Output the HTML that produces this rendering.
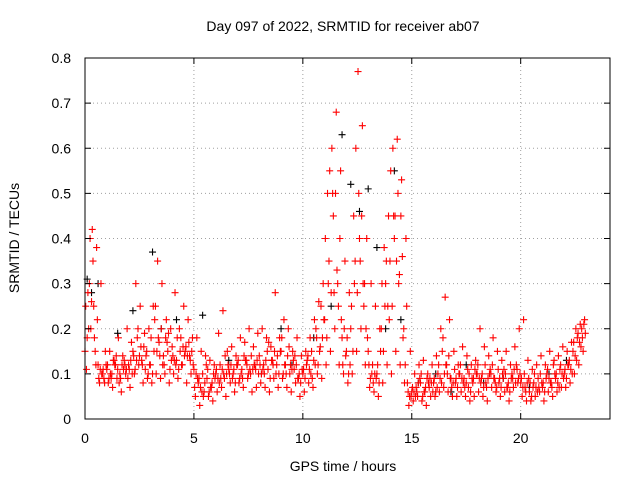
<!DOCTYPE html>
<html><head><meta charset="utf-8"><style>
body{margin:0;background:#fff;}
svg{display:block;font-family:"Liberation Sans",sans-serif;}
</style></head><body>
<svg id="chart" width="640" height="480" viewBox="0 0 640 480">
<text x="343" y="31" font-size="14" text-anchor="middle">Day 097 of 2022, SRMTID for receiver ab07</text>
<text x="343" y="471" font-size="14" text-anchor="middle">GPS time / hours</text>
<text transform="translate(19,238) rotate(-90)" font-size="14" text-anchor="middle">SRMTID / TECUs</text>
<g id="grid"></g><g id="marks"></g><g id="axes"></g>
</svg>
<script>
const xTicks=[0,5,10,15,20];
const yTicks=[0,0.1,0.2,0.3,0.4,0.5,0.6,0.7,0.8];
const yTickLabels=["0","0.1","0.2","0.3","0.4","0.5","0.6","0.7","0.8"];
const seriesA=[.15,.30,.25,.12,.10,.11,.09,.12,.10,.13,.12,.15,.18,.13,.14,.12,.22,.17,.14,.15,.16,.13,.18,.15,.14,.11,.08,.10,.09,.07,.10,.12,.09,.11,.10,.12,.11,.13,.10,.12,.14,.12,.11,.13,.12,.15,.12,.10,.11,.09,.10,.13,.15,.20,.16,.22,.35,.45,.30,.18,.15,.20,.35,.40,.25,.15,.12,.10,.20,.30,.35,.40,.30,.18,.08,.06,.07,.08,.06,.07,.08,.10,.15,.12,.09,.08,.10,.09,.07,.08,.10,.09,.08,.11,.09,.08,.09,.07,.10,.12,.08,.07,.06,.08,.09,.07,.10,.08,.09,.11,.10,.12,.15,.18,.20];
const seriesB=[.11,.20,.15,.08,.09,.08,.07,.09,.06,.10,.07,.10,.12,.08,.09,.08,.10,.09,.10,.08,.10,.09,.12,.08,.10,.05,.03,.06,.05,.04,.06,.07,.05,.08,.06,.08,.07,.09,.06,.07,.08,.07,.06,.09,.07,.09,.07,.06,.08,.05,.06,.08,.07,.10,.09,.12,.15,.20,.12,.10,.08,.10,.15,.20,.12,.07,.06,.05,.08,.12,.10,.15,.12,.08,.03,.04,.05,.04,.03,.05,.05,.06,.07,.06,.05,.05,.06,.05,.04,.05,.06,.05,.04,.07,.06,.05,.06,.04,.07,.08,.05,.04,.04,.05,.06,.04,.06,.05,.06,.07,.07,.08,.10,.12,.15];
const seriesC=[.28,.42,.38,.30,.15,.15,.13,.18,.14,.20,.17,.30,.25,.19,.20,.25,.35,.30,.22,.20,.28,.20,.25,.22,.18,.18,.15,.14,.13,.12,.19,.24,.15,.16,.14,.18,.17,.20,.16,.19,.20,.18,.16,.28,.18,.22,.20,.15,.18,.14,.15,.18,.22,.26,.30,.50,.60,.68,.55,.35,.28,.45,.77,.65,.40,.30,.25,.20,.38,.45,.60,.62,.53,.40,.15,.10,.12,.13,.10,.12,.14,.20,.27,.22,.15,.12,.16,.14,.12,.13,.20,.16,.14,.18,.15,.13,.15,.12,.16,.20,.22,.13,.11,.12,.14,.12,.15,.13,.14,.16,.15,.17,.20,.21,.22];
const seriesD=[.20,.35,.22,.10,.12,.10,.12,.08,.11,.09,.10,.13,.16,.11,.12,.15,.18,.12,.17,.13,.12,.15,.14,.17,.12,.09,.06,.12,.07,.09,.08,.10,.12,.09,.12,.10,.13,.11,.12,.10,.11,.15,.13,.10,.15,.12,.16,.13,.09,.11,.12,.10,.12,.15,.22,.30,.50,.33,.22,.14,.12,.30,.50,.30,.18,.10,.09,.15,.25,.22,.45,.50,.36,.25,.05,.05,.09,.06,.08,.06,.07,.08,.12,.09,.11,.10,.08,.11,.09,.10,.08,.12,.10,.09,.11,.10,.07,.09,.08,.10,.10,.09,.07,.06,.08,.09,.08,.10,.07,.09,.12,.10,.13,.16,.19];
const seriesE=[.25,.40,.18,.09,.11,.12,.10,.14,.09,.12,.11,.14,.20,.12,.15,.18,.25,.14,.12,.19,.14,.18,.12,.16,.13,.07,.09,.05,.11,.08,.11,.09,.14,.10,.11,.13,.09,.12,.14,.11,.12,.10,.17,.12,.14,.18,.10,.12,.14,.10,.11,.14,.09,.18,.25,.40,.55,.28,.25,.12,.18,.25,.60,.35,.30,.12,.08,.12,.30,.35,.55,.45,.32,.20,.06,.07,.06,.10,.07,.09,.09,.12,.18,.10,.07,.09,.12,.07,.10,.09,.12,.10,.07,.10,.08,.09,.11,.08,.09,.11,.09,.06,.08,.10,.07,.08,.11,.07,.10,.12,.11,.13,.17,.19,.18];
const seriesF=[.18,.26,.12,.11,.08,.09,.13,.11,.12,.11,.13,.11,.14,.16,.10,.10,.15,.20,.18,.11,.13,.11,.16,.14,.15,.10,.07,.08,.06,.10,.09,.11,.10,.12,.08,.09,.14,.10,.11,.13,.10,.13,.09,.15,.10,.10,.14,.11,.12,.08,.09,.11,.13,.12,.18,.18,.28,.50,.40,.20,.10,.15,.28,.45,.20,.09,.10,.08,.15,.25,.25,.35,.45,.12,.05,.06,.08,.05,.09,.08,.06,.09,.10,.14,.08,.07,.09,.08,.06,.11,.09,.07,.09,.12,.07,.07,.10,.06,.11,.09,.07,.08,.05,.07,.10,.06,.09,.12,.08,.10,.09,.11,.14,.17,.21];
const blackT=[0.1,0.3,0.6,1.5,2.2,3.1,3.5,4.2,5.4,6.6,8.1,9.0,9.5,10.5,11.3,11.8,12.2,12.6,13.0,13.4,13.8,14.2,14.5,15.3,16.1,16.8,17.5,18.3,19.2,20.4,21.3,22.1];
const blackV=[0.31,0.28,0.30,0.19,0.24,0.37,0.20,0.22,0.23,0.13,0.10,0.20,0.12,0.18,0.25,0.63,0.52,0.46,0.51,0.38,0.20,0.55,0.22,0.08,0.10,0.06,0.12,0.08,0.09,0.07,0.10,0.13];
const X0=85,X1=610,Y0=419,Y1=58,XMAX=24.1,YMAX=0.8;
const xs=v=>X0+(X1-X0)*v/XMAX, ys=v=>Y0-(Y0-Y1)*v/YMAX;
const NS="http://www.w3.org/2000/svg";
function mk(tag,attrs,parent){const e=document.createElementNS(NS,tag);for(const k in attrs)e.setAttribute(k,attrs[k]);parent.appendChild(e);return e;}
const grid=document.getElementById('grid'),marks=document.getElementById('marks'),axes=document.getElementById('axes');
xTicks.forEach(t=>{const x=xs(t);
 if(t>0){const g=mk('line',{x1:x,x2:x,y1:Y1,y2:Y0,stroke:'#a0a0a0','stroke-dasharray':'1,3'},grid);
 
 }
 mk('line',{x1:x,x2:x,y1:Y0,y2:Y0-6,stroke:'#000'},axes);mk('line',{x1:x,x2:x,y1:Y1,y2:Y1+6,stroke:'#000'},axes);
 const l=mk('text',{x:x,y:Y0+24,'font-size':14,'text-anchor':'middle'},axes);l.textContent=t;
 
 });
yTicks.forEach((t,i)=>{const y=ys(t);
 if(t>0&&t<0.8){const g=mk('line',{x1:X0,x2:X1,y1:y,y2:y,stroke:'#a0a0a0','stroke-dasharray':'1,3'},grid);
 
 }
 mk('line',{x1:X0,x2:X0+6,y1:y,y2:y,stroke:'#000'},axes);mk('line',{x1:X1,x2:X1-6,y1:y,y2:y,stroke:'#000'},axes);
 const l=mk('text',{x:X0-14,y:y+5,'font-size':14,'text-anchor':'end'},axes);l.textContent=yTickLabels[i];
 
 });
const frame=mk('rect',{x:X0,y:Y1,width:X1-X0,height:Y0-Y1,fill:'none',stroke:'#000'},axes);


function plus(t,v,color){const x=xs(t),y=ys(v);
 const p=mk('path',{d:`M${x-3.5},${y}h7M${x},${y-3.5}v7`,stroke:color,'stroke-width':1.1,fill:'none'},marks);
 
 }
blackT.forEach((t,i)=>plus(t,blackV[i],'#000'));
[[seriesA,0],[seriesE,0.033],[seriesB,0.067],[seriesF,0.1],[seriesC,0.133],[seriesD,0.167]].forEach(([s,off])=>s.forEach((v,i)=>plus(i*0.2+off,v,'#ff0000')));
</script>
</body></html>
